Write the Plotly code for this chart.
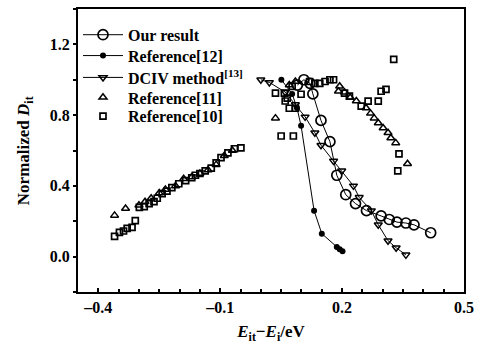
import plotly.graph_objects as go

# ---------------- data ----------------
our_x = [0.09, 0.106, 0.121, 0.128, 0.148, 0.170, 0.187, 0.209, 0.233, 0.26, 0.296, 0.316, 0.335, 0.357, 0.377, 0.418]
our_y = [0.97, 1.00, 0.98, 0.92, 0.77, 0.65, 0.46, 0.35, 0.30, 0.26, 0.23, 0.21, 0.195, 0.19, 0.18, 0.135]

ref12_x = [0.0505, 0.077, 0.089, 0.099, 0.131, 0.150, 0.187, 0.194, 0.201]
ref12_y = [1.00, 0.92, 0.84, 0.74, 0.26, 0.13, 0.055, 0.042, 0.03]

dciv_x = [0.0, 0.021, 0.06, 0.085, 0.109, 0.133, 0.148, 0.179, 0.199, 0.228, 0.242, 0.272, 0.289, 0.313, 0.333, 0.357]
dciv_y = [1.00, 0.985, 0.93, 0.86, 0.79, 0.70, 0.63, 0.54, 0.485, 0.40, 0.335, 0.26, 0.18, 0.09, 0.05, 0.01]

ref11_x = [-0.36, -0.333, -0.30, -0.285, -0.27, -0.25, -0.235, -0.21, -0.19, -0.17, -0.15, -0.13, -0.11, -0.09, -0.07,
           0.036, 0.07, 0.085, 0.194, 0.191, 0.206, 0.22, 0.235, 0.259, 0.27, 0.279, 0.289, 0.301, 0.313, 0.320, 0.332, 0.361]
ref11_y = [0.233, 0.272, 0.29, 0.31, 0.33, 0.36, 0.38, 0.40, 0.44, 0.45, 0.47, 0.49, 0.52, 0.57, 0.60,
           0.783, 0.97, 0.99, 0.963, 0.935, 0.93, 0.90, 0.88, 0.84, 0.81, 0.783, 0.755, 0.727, 0.70, 0.671, 0.643, 0.525]

ref10_x = [-0.36, -0.348, -0.338, -0.329, -0.317, -0.309, -0.299, -0.287, -0.275, -0.263, -0.255, -0.243, -0.231,
           -0.219, -0.202, -0.185, -0.17, -0.161, -0.15, -0.137, -0.122, -0.11, -0.098, -0.081, -0.065, -0.049,
           0.036, 0.058, 0.065, 0.06, 0.07, 0.085, 0.099, 0.077, 0.05, 0.08,
           0.12, 0.133, 0.145, 0.158, 0.17, 0.179, 0.206, 0.218, 0.247, 0.264, 0.289, 0.296, 0.308, 0.327, 0.340, 0.337]
ref10_y = [0.115, 0.137, 0.145, 0.16, 0.165, 0.204, 0.278, 0.283, 0.30, 0.311, 0.33, 0.356, 0.37,
           0.39, 0.412, 0.43, 0.446, 0.46, 0.47, 0.485, 0.50, 0.53, 0.56, 0.587, 0.61, 0.615,
           0.924, 0.924, 0.896, 0.88, 0.839, 0.839, 0.918, 0.963, 0.682, 0.682,
           0.99, 0.98, 0.98, 0.99, 1.00, 1.00, 0.924, 0.907, 0.851, 0.879, 0.879, 0.935, 0.946, 1.115, 0.581, 0.485]

x_tickvals = [-0.4, -0.1, 0.2, 0.5]
x_ticktext = ["\u20130.4", "\u20130.1", "0.2", "0.5"]
y_tickvals = [0.0, 0.4, 0.8, 1.2]
y_ticktext = ["0.0", "0.4", "0.8", "1.2"]

serif = "Liberation Serif"

fig = go.Figure()
fig.add_trace(go.Scatter(x=our_x, y=our_y, mode="lines+markers", name="Our result", legend="legend",
                         line=dict(color="black", width=1),
                         marker=dict(symbol="circle-open", size=10, color="black", line=dict(width=1.7))))
fig.add_trace(go.Scatter(x=ref12_x, y=ref12_y, mode="lines+markers", name="Reference[12]", legend="legend2",
                         line=dict(color="black", width=1),
                         marker=dict(symbol="circle", size=6, color="black")))
fig.add_trace(go.Scatter(x=dciv_x, y=dciv_y, mode="lines+markers", name="DCIV method<sup>[13]</sup>",
                         legend="legend3",
                         line=dict(color="black", width=1),
                         marker=dict(symbol="triangle-down-open", size=7, color="black", line=dict(width=1.5))))
fig.add_trace(go.Scatter(x=ref11_x, y=ref11_y, mode="markers", name="Reference[11]", legend="legend4",
                         marker=dict(symbol="triangle-up-open", size=7, color="black", line=dict(width=1.5))))
fig.add_trace(go.Scatter(x=ref10_x, y=ref10_y, mode="markers", name="Reference[10]", legend="legend5",
                         marker=dict(symbol="square-open", size=6, color="black", line=dict(width=1.7))))

plot_top, plot_h, plot_l, plot_w = 7, 285, 78, 391


def leg(row_px):
    return dict(x=0.0, y=1 - (row_px - plot_top) / plot_h, xanchor="left", yanchor="middle",
                bgcolor="rgba(0,0,0,0)", font=dict(family=serif, size=16, weight="bold"),
                itemwidth=40, tracegroupgap=0)


fig.update_layout(
    width=481, height=349,
    margin=dict(l=plot_l, r=12, t=plot_top, b=57),
    paper_bgcolor="white", plot_bgcolor="white",
    font=dict(family=serif, color="black", size=16, weight="bold"),
    showlegend=True,
    legend=leg(33), legend2=leg(54), legend3=leg(76), legend4=leg(96), legend5=leg(115),
    xaxis=dict(range=[-0.45, 0.5], showgrid=False, zeroline=False, showline=True, linecolor="black",
               linewidth=2, mirror=True, ticks="inside", ticklen=4, tickwidth=1.5, tickcolor="black",
               tickvals=x_tickvals, ticktext=x_ticktext,
               tickfont=dict(family=serif, size=16, weight="bold"),
               minor=dict(dtick=0.05, tick0=0, ticks="inside", ticklen=3, tickcolor="black", tickwidth=1.5),
               title=dict(text="<i>E</i><sub>it</sub>\u2212<i>E</i><sub>i</sub>/eV", standoff=10,
                          font=dict(family=serif, size=17, weight="bold"))),
    yaxis=dict(range=[-0.2, 1.4], showgrid=False, zeroline=False, showline=True, linecolor="black",
               linewidth=2, mirror=True, ticks="outside", ticklen=3, tickwidth=1.5, tickcolor="black",
               tickvals=y_tickvals, ticktext=y_ticktext,
               tickfont=dict(family=serif, size=16, weight="bold"),
               minor=dict(dtick=0.2, tick0=0, ticks="outside", ticklen=3, tickcolor="black", tickwidth=1.5)),
    annotations=[dict(text="Normalized <i>D</i><sub>it</sub>", xref="paper", yref="paper",
                      x=(24 - plot_l) / plot_w, y=0.5, xanchor="center", yanchor="middle",
                      textangle=-90, showarrow=False,
                      font=dict(family=serif, size=17, weight="bold", color="black"))],
)

fig.write_html("out.html")
